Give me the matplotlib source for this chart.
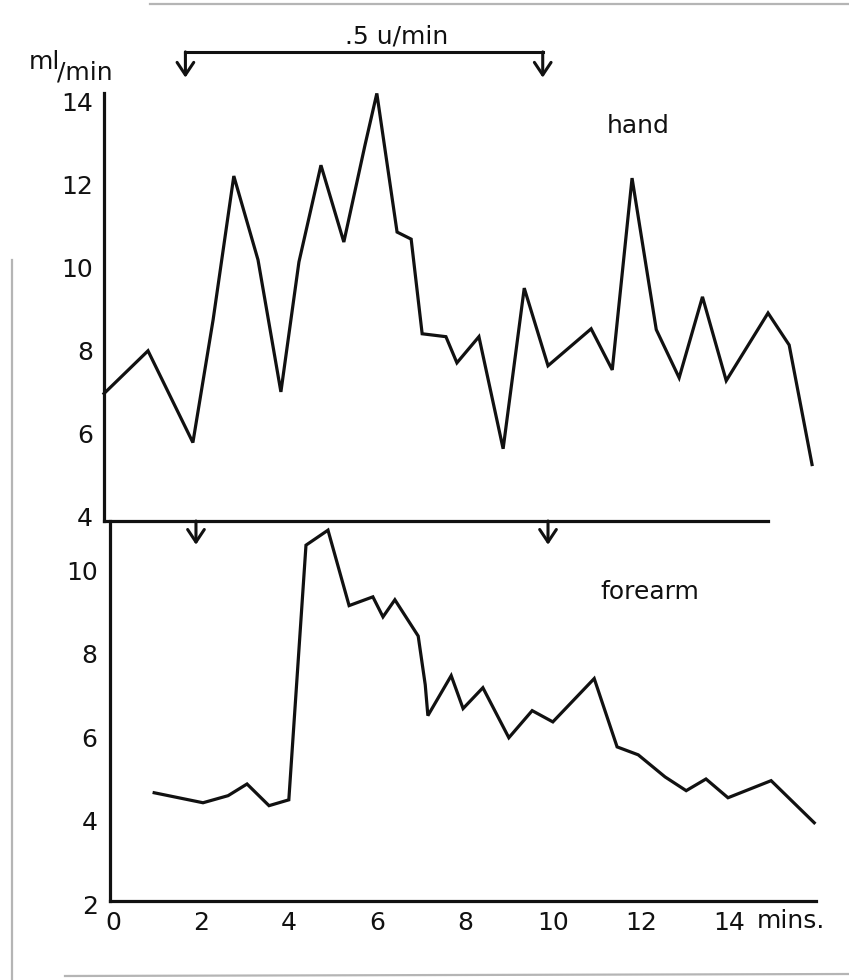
import matplotlib
matplotlib.use("Agg")
import matplotlib.pyplot as plt
from matplotlib.lines import Line2D
from matplotlib.transforms import ScaledTranslation

# Blood flow (ml/min) against time (min); infusion of .5 u/min between the arrows
hand_t = [0.0, 1.0, 2.02, 2.48, 2.95, 3.5, 4.02, 4.43, 4.93, 5.45, 5.93, 6.2,
          6.66, 6.98, 7.23, 7.77, 8.02, 8.52, 9.07, 9.55, 10.09, 11.07, 11.55,
          12.0, 12.55, 13.07, 13.6, 14.14, 15.09, 15.57, 16.09]
hand_flow = [6.96, 7.99, 5.78, 8.74, 12.2, 10.18, 7.0, 10.13, 12.46, 10.61,
             12.94, 14.19, 10.85, 10.68, 8.4, 8.33, 7.7, 8.33, 5.63, 9.5, 7.63,
             8.52, 7.53, 12.15, 8.5, 7.34, 9.29, 7.27, 8.9, 8.13, 5.25]

forearm_t = [1.14, 2.25, 2.82, 3.25, 3.75, 4.2, 4.59, 5.09, 5.57, 6.11, 6.34,
             6.61, 7.14, 7.3, 7.36, 7.89, 8.16, 8.61, 9.2, 9.73, 10.2, 11.14,
             11.66, 12.14, 12.75, 13.23, 13.68, 14.18, 15.16, 16.14]
forearm_flow = [4.67, 4.43, 4.6, 4.88, 4.36, 4.5, 10.61, 10.97, 9.16, 9.37,
                8.89, 9.3, 8.43, 7.26, 6.52, 7.48, 6.69, 7.19, 5.99, 6.64, 6.37,
                7.41, 5.77, 5.58, 5.05, 4.72, 5.0, 4.55, 4.96, 3.95]

x_ticks = [0, 2, 4, 6, 8, 10, 12, 14]
hand_yticks = [4, 6, 8, 10, 12, 14]
forearm_yticks = [2, 4, 6, 8, 10]

hand_arrows = [1.85, 9.97]      # start / stop of infusion, upper panel
forearm_arrows = [2.09, 10.09]  # start / stop of infusion, lower panel

plt.rcParams['font.family'] = ['DejaVu Sans']
FS = 18
LW = 2.3
INK = '#111111'

fig = plt.figure(figsize=(8.49, 9.8), dpi=100)
fig.patch.set_facecolor('white')

left, width = 104 / 849, 712 / 849
ax1 = fig.add_axes([left, (980 - 521) / 980, width, 428 / 980])
ax2 = fig.add_axes([left, (980 - 908.2) / 980, width, (908.2 - 521) / 980])

for ax in (ax1, ax2):
    ax.set_xlim(0, 16.18)
    ax.set_facecolor('none')
    for s in ('top', 'right'):
        ax.spines[s].set_visible(False)
    for s in ('left', 'bottom'):
        ax.spines[s].set_linewidth(LW)
        ax.spines[s].set_color(INK)
        ax.spines[s].set_capstyle('projecting')
    ax.tick_params(length=0, labelsize=FS, colors=INK)

# upper panel: hand
ax1.set_ylim(3.89, 14.2)
ax1.plot(hand_t, hand_flow, color=INK, lw=LW, clip_on=False,
         solid_joinstyle='miter')
ax1.set_yticks(hand_yticks)
ax1.set_xticks([])
ax1.tick_params(axis='y', pad=8)
ax1.spines['bottom'].set_bounds(0, 15.1)
ax1.text(12.14, 13.41, 'hand', fontsize=FS, ha='center', va='center', color=INK)

# lower panel: forearm
ax2.set_ylim(1.9, 11.19)
ax2.plot(forearm_t, forearm_flow, color=INK, lw=LW, clip_on=False,
         solid_joinstyle='miter')
ax2.spines['left'].set_position(('data', 0.14))
ax2.spines['left'].set_bounds(2.072, 11.19)
ax2.spines['bottom'].set_position(('data', 2.072))
ax2.spines['bottom'].set_bounds(0.14, 16.18)
ax2.set_yticks(forearm_yticks)
ax2.set_xticks(x_ticks)
ax2.set_xticklabels([str(v) for v in x_ticks])
ax2.tick_params(axis='y', pad=9)
ax2.tick_params(axis='x', pad=7)
shift = ScaledTranslation(9 / 100, 0, fig.dpi_scale_trans)
for lab in ax2.get_xticklabels():
    lab.set_transform(lab.get_transform() + shift)
ax2.text(12.41, 9.48, 'forearm', fontsize=FS, ha='center', va='center', color=INK)

# infusion bracket above the upper panel
arrow_style = dict(arrowstyle='->, head_length=0.45, head_width=0.3',
                   lw=2.2, color=INK, mutation_scale=20, shrinkA=0, shrinkB=0)
top_v, tip_v = 15.19, 14.57
ax1.plot([hand_arrows[0], hand_arrows[1]], [top_v, top_v], color=INK, lw=2.2,
         clip_on=False, solid_capstyle='projecting')
for t in hand_arrows:
    ax1.annotate('', xy=(t, tip_v), xytext=(t, top_v), arrowprops=arrow_style,
                 annotation_clip=False)
ax1.text(6.64, 15.55, '.5 u/min', fontsize=FS, ha='center', va='center', color=INK)

# same infusion marks on the lower panel
for t in forearm_arrows:
    ax2.annotate('', xy=(t, 10.62), xytext=(t, 11.19), arrowprops=arrow_style,
                 annotation_clip=False)

# axis unit and time label
fig.text(29 / 849, 1 - 62 / 980, 'ml', fontsize=FS, ha='left', va='center', color=INK)
fig.text(57 / 849, 1 - 72 / 980, '/min', fontsize=FS, ha='left', va='center', color=INK)
fig.text(791 / 849, 1 - 921 / 980, 'mins.', fontsize=FS, ha='center', va='center',
         color=INK)

# faint page edges of the sheet
edge = dict(color='#b5b5b5', lw=1.6, transform=fig.transFigure)
fig.add_artist(Line2D([150 / 849, 1.0], [1 - 4 / 980, 1 - 4 / 980], **edge))
fig.add_artist(Line2D([12 / 849, 12 / 849], [0.0, 1 - 260 / 980], **edge))
fig.add_artist(Line2D([65 / 849, 1.0], [1 - 976 / 980, 1 - 974 / 980], **edge))

fig.savefig('out.png', dpi=100, facecolor='white')
